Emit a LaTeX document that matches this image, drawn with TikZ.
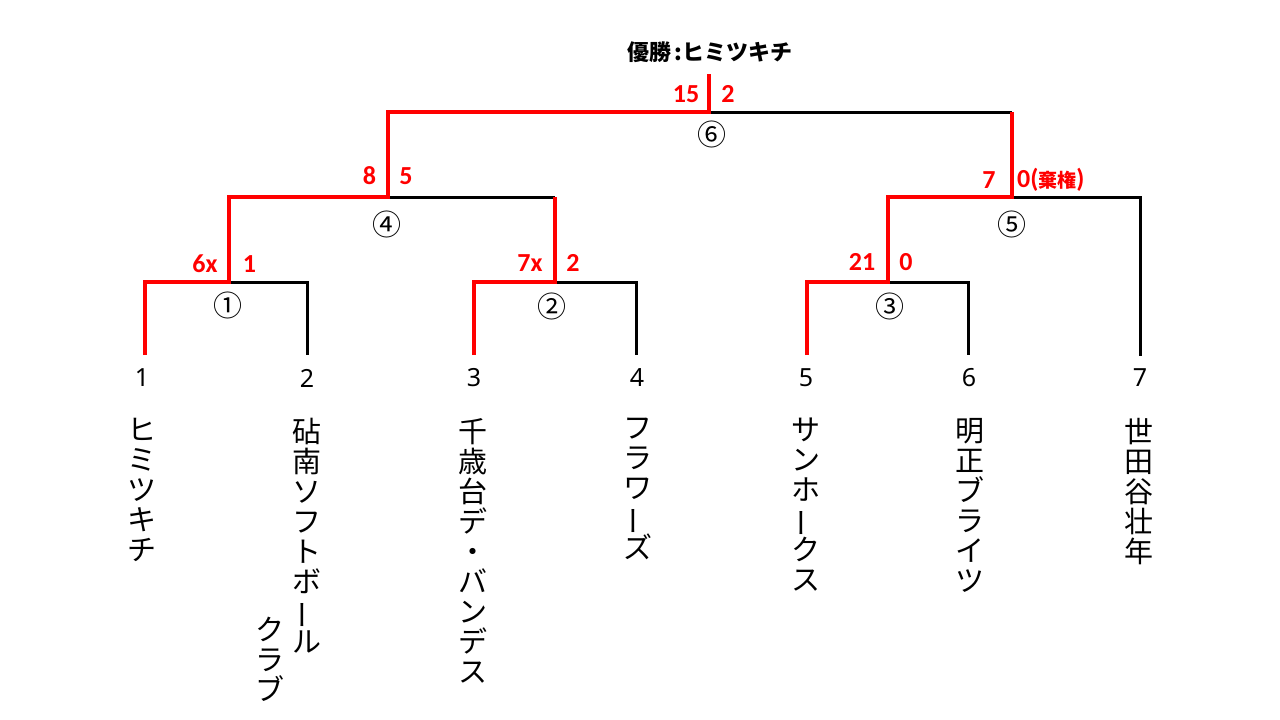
\documentclass[tikz,border=0pt]{standalone}
\usepackage{fontspec}
\usepackage{graphicx}
\newfontfamily\jpf{Noto Sans CJK JP}
\newfontfamily\calf{Carlito}
\newfontfamily\nsansf{Noto Sans}
\newcommand\vbar{\raisebox{0.05em}{\rotatebox[origin=c]{90}{ー}}}
\newcommand\vset{\jpf\fontsize{29}{30}\selectfont\lineskiplimit=-100pt\relax\lineskip=0pt\relax}
\tikzset{
  blk/.style={line width=3pt, black},
  win/.style={line width=3.4pt, red},
  score/.style={text=red, inner sep=0pt, font=\calf\bfseries\fontsize{26}{26}\selectfont},
  mno/.style={inner sep=0pt, font=\jpf\fontsize{29}{29}\selectfont},
  leafno/.style={inner sep=0pt, font=\nsansf\fontsize{25}{25}\selectfont},
  vname/.style={inner sep=0pt, anchor=north, align=center, font=\vset},
}
\begin{document}
\begin{tikzpicture}[x=1pt,y=-1pt]
\useasboundingbox (0,0) rectangle (1280,720);
% leaf tops
\coordinate (L1) at (145,355);
\coordinate (L2) at (307,355);
\coordinate (L3) at (474,355);
\coordinate (L4) at (636,355);
\coordinate (L5) at (807,355);
\coordinate (L6) at (968,355);
\coordinate (L7) at (1140,356);
% match 1
\coordinate (a1) at (145,282);
\coordinate (c1) at (229,282);
\coordinate (b1) at (307,282);
% match 2
\coordinate (a2) at (474,282);
\coordinate (c2) at (555,282);
\coordinate (b2) at (636,282);
% match 3
\coordinate (a3) at (807,282);
\coordinate (c3) at (888,282);
\coordinate (b3) at (968,282);
% match 4
\coordinate (a4) at (229,197);
\coordinate (c4) at (388,197);
\coordinate (b4) at (555,197);
% match 5
\coordinate (a5) at (888,197);
\coordinate (c5) at (1012,197);
\coordinate (b5) at (1140,197);
% match 6
\coordinate (a6) at (388,112);
\coordinate (c6) at (709,112);
\coordinate (b6) at (1012,112);
\coordinate (top) at (709,74);

% losing branches
\draw[blk] (c1) -- (b1) -- (L2);
\draw[blk] (c2) -- (b2) -- (L4);
\draw[blk] (c3) -- (b3) -- (L6);
\draw[blk] (c4) -- (b4);
\draw[blk] (c5) -- (b5) -- (L7);
\draw[blk] (c6) -- (b6);
% winning paths
\draw[win] (L1) -- (a1) -- (c1) -- (a4) -- (c4) -- (a6) -- (c6) -- (top);
\draw[win] (L3) -- (a2) -- (c2) -- (b4);
\draw[win] (L5) -- (a3) -- (c3) -- (a5) -- (c5) -- (b6);

% title
\node[inner sep=0pt, font=\jpf\bfseries\fontsize{22}{22}\selectfont] (title) at (710,52) {優勝\,:ヒミツキチ};

% scores
\node[score] (s1a) at (205,264) {6x};
\node[score] (s1b) at (249.5,264) {1};
\node[score] (s2a) at (530,263) {7x};
\node[score] (s2b) at (573,263) {2};
\node[score] (s3a) at (862,262) {21};
\node[score] (s3b) at (906,262) {0};
\node[score] (s4a) at (369.5,176) {8};
\node[score] (s4b) at (406,176) {5};
\node[score] (s5a) at (989,180) {7};
\node[score, anchor=west] (s5b) at (1017,180) {0({\jpf\fontsize{19}{19}\selectfont 棄権})};
\node[score] (s6a) at (686,94) {15};
\node[score] (s6b) at (728,94) {2};

% match numbers
\node[mno] (m1) at (228,305) {①};
\node[mno] (m2) at (552,306) {②};
\node[mno] (m3) at (890,306) {③};
\node[mno] (m4) at (387,224) {④};
\node[mno] (m5) at (1012,224) {⑤};
\node[mno] (m6) at (712,134) {⑥};

% leaf numbers
\node[leafno] (n1) at (142,378) {1};
\node[leafno] (n2) at (307,378) {2};
\node[leafno] (n3) at (474,378) {3};
\node[leafno] (n4) at (637,378) {4};
\node[leafno] (n5) at (806,378) {5};
\node[leafno] (n6) at (969,378) {6};
\node[leafno] (n7) at (1140,378) {7};

% team names (vertical)
\node[vname] (t1) at (142,418) {ヒ\\ミ\\ツ\\キ\\チ};
\node[vname] (t2) at (307,418) {砧\\南\\ソ\\フ\\ト\\ボ\\\vbar\\ル};
\node[vname] (t2b) at (270,617) {ク\\ラ\\ブ};
\node[vname] (t3) at (473,418) {千\\歳\\台\\デ\\・\\バ\\ン\\デ\\ス};
\node[vname] (t4) at (638,418) {フ\\ラ\\ワ\\\vbar\\ズ};
\node[vname] (t5) at (806,418) {サ\\ン\\ホ\\\vbar\\ク\\ス};
\node[vname] (t6) at (970,418) {明\\正\\ブ\\ラ\\イ\\ツ};
\node[vname] (t7) at (1139,418) {世\\田\\谷\\壮\\年};
\end{tikzpicture}
\end{document}
